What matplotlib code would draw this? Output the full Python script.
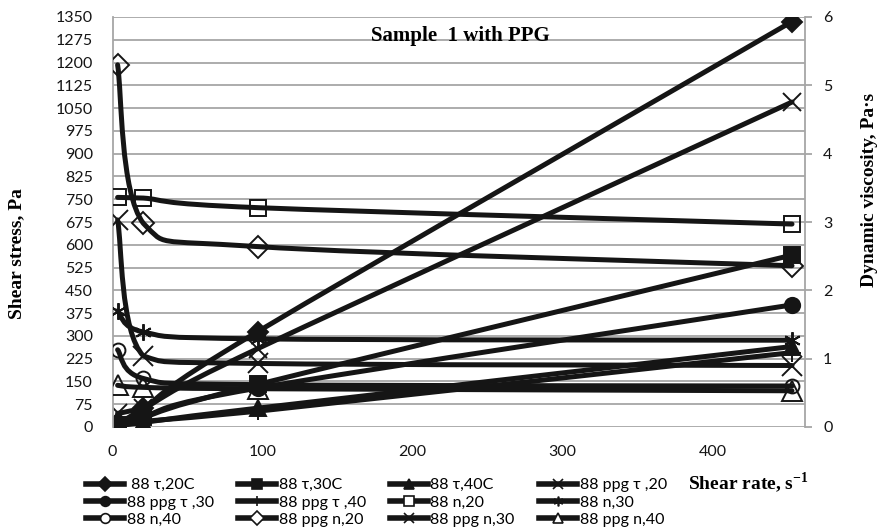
"""
Sample 1 with PPG: shear stress and viscosity vs shear rate
"""
import numpy as np
import matplotlib
matplotlib.use("Agg")
import matplotlib.pyplot as plt
from matplotlib.path import Path
from matplotlib.patches import PathPatch
from matplotlib.lines import Line2D
from matplotlib.font_manager import FontProperties

# shear rate, s^-1
shear_rate = [3.4, 20.6, 96.8, 453]

# shear stress, Pa (left axis)
tau_20c = [12, 62, 314, 1335]
tau_30c = [6, 32, 140, 566]
tau_40c = [3, 15, 62, 265]
ppg_tau_20 = [45, 62, 258, 1070]
ppg_tau_30 = [8, 35, 128, 402]
ppg_tau_40 = [4, 18, 52, 245]

# dynamic viscosity, Pa*s (right axis)
n_20 = [3.36, 3.35, 3.21, 2.97]
n_30 = [1.70, 1.39, 1.29, 1.27]
n_40 = [1.13, 0.71, 0.62, 0.60]
ppg_n_20 = [5.30, 2.98, 2.64, 2.36]
ppg_n_30 = [3.03, 1.04, 0.93, 0.90]
ppg_n_40 = [0.61, 0.58, 0.56, 0.53]

labels = [" 88 τ,20C", "88 τ,30C", "88 τ,40C", "88 ppg τ ,20",
          "88 ppg τ ,30", "88 ppg τ ,40", "88 n,20", "88 n,30",
          "88 n,40", "88 ppg n,20", "88 ppg n,30", "88 ppg n,40"]

INK = "#151515"
GRID = "#a6a6a6"
W, H = 881, 531

plt.rcParams["mathtext.fontset"] = "custom"
plt.rcParams["mathtext.rm"] = "Liberation Serif:bold"
plt.rcParams["mathtext.bf"] = "Liberation Serif:bold"

tick_font = FontProperties(family=["Lato", "DejaVu Sans"], size=11.5)
label_font = FontProperties(family="Liberation Serif", weight="bold", size=14)


def smooth_path(xs, ys):
    # smoothed line through the points (cubic bezier, no overshoot)
    pts = np.column_stack([xs, ys]).astype(float)
    n = len(pts)
    verts = [pts[0]]
    codes = [Path.MOVETO]
    for i in range(n - 1):
        p0 = pts[i - 1] if i > 0 else pts[i]
        p1, p2 = pts[i], pts[i + 1]
        p3 = pts[i + 2] if i + 2 < n else pts[i + 1]
        c1 = p1 + (p2 - p0) / 6
        c2 = p2 - (p3 - p1) / 6
        lo, hi = min(p1[1], p2[1]), max(p1[1], p2[1])
        c1[1] = np.clip(c1[1], lo, hi)
        c2[1] = np.clip(c2[1], lo, hi)
        verts += [c1, c2, p2]
        codes += [Path.CURVE4] * 3
    return Path(verts, codes)


fig = plt.figure(figsize=(W / 100, H / 100), dpi=100)
left, right, top, bottom = 112.5, 805, 17, 427
ax = fig.add_axes([left / W, 1 - bottom / H, (right - left) / W, (bottom - top) / H])
ax2 = ax.twinx()

ax.set_xlim(0, (right - left) / 1.5)
ax.set_ylim(0, 1350)
ax2.set_ylim(0, 6)
ax.set_xticks([0, 100, 200, 300, 400])
ax.set_yticks(range(0, 1351, 75))
ax2.set_yticks(range(0, 7))

ax.yaxis.grid(True, color=GRID, lw=1.3)
ax.set_axisbelow(True)
for a in (ax, ax2):
    for s in ("top", "bottom"):
        a.spines[s].set_visible(False)
ax.spines["right"].set_visible(False)
ax2.spines["left"].set_visible(False)
ax.spines["left"].set_color(GRID)
ax.spines["left"].set_linewidth(1.3)
ax2.spines["right"].set_color(GRID)
ax2.spines["right"].set_linewidth(1.3)

ax.tick_params(axis="y", length=0, pad=14)
ax.tick_params(axis="x", length=0, pad=13)
ax2.tick_params(axis="y", length=5, width=1.3, color=GRID, pad=8)
for a in (ax, ax2):
    for t in a.get_xticklabels() + a.get_yticklabels():
        t.set_fontproperties(tick_font)
        t.set_color(INK)

# (values, axis, marker, size, filled)
series = [
    (tau_20c, ax, "D", 10, True),
    (tau_30c, ax, "s", 11, True),
    (tau_40c, ax, "^", 11, True),
    (ppg_tau_20, ax, "x", 13, False),
    (ppg_tau_30, ax, "o", 11, True),
    (ppg_tau_40, ax, "+", 13, False),
    (n_20, ax2, "s", 12, False),
    (n_30, ax2, (6, 2, 0), 12, False),
    (n_40, ax2, "o", 10, False),
    (ppg_n_20, ax2, "D", 11, False),
    (ppg_n_30, ax2, "x", 15, False),
    (ppg_n_40, ax2, "^", 14, False),
]

handles = []
for (vals, a, mk, ms, filled), lab in zip(series, labels):
    patch = PathPatch(smooth_path(shear_rate, vals), facecolor="none",
                      edgecolor=INK, lw=3.6, capstyle="round", joinstyle="round")
    a.add_patch(patch)
    fc = INK if filled else "none"
    a.plot(shear_rate, vals, linestyle="none", marker=mk, markersize=ms,
           markerfacecolor=fc, markeredgecolor=INK, markeredgewidth=1.4)
    handles.append(Line2D([], [], color=INK, lw=4, marker=mk, markersize=7,
                          markerfacecolor=fc if filled else "white",
                          markeredgecolor=INK, markeredgewidth=1.2))

# Excel fills the legend row by row, matplotlib column by column
order = [0, 4, 8, 1, 5, 9, 2, 6, 10, 3, 7, 11]
fig.legend([handles[i] for i in order], [labels[i] for i in order],
           loc="upper left", bbox_to_anchor=(86 / W, 1 - 478 / H), ncol=4,
           frameon=False, borderpad=0, borderaxespad=0, handlelength=2.4,
           handletextpad=0.15, columnspacing=1.5, labelspacing=0.2,
           prop=FontProperties(family=["Lato", "DejaVu Sans"], size=11.5))

ax.text(0.502, 0.953, "Sample  1 with PPG", transform=ax.transAxes,
        ha="center", va="center", fontproperties=FontProperties(
            family="Liberation Serif", weight="bold", size=15))
fig.text(17 / W, 1 - 254 / H, "Shear stress, Pa", rotation=90,
         ha="center", va="center", fontproperties=label_font)
fig.text(870 / W, 1 - 190 / H, "Dynamic viscosity, Pa·s", rotation=90,
         ha="center", va="center", fontproperties=label_font)
fig.text(688 / W, 1 - 483 / H, "Shear rate, s$^{-1}$", ha="left", va="center",
         fontproperties=label_font)

fig.savefig("out.png", dpi=100)
